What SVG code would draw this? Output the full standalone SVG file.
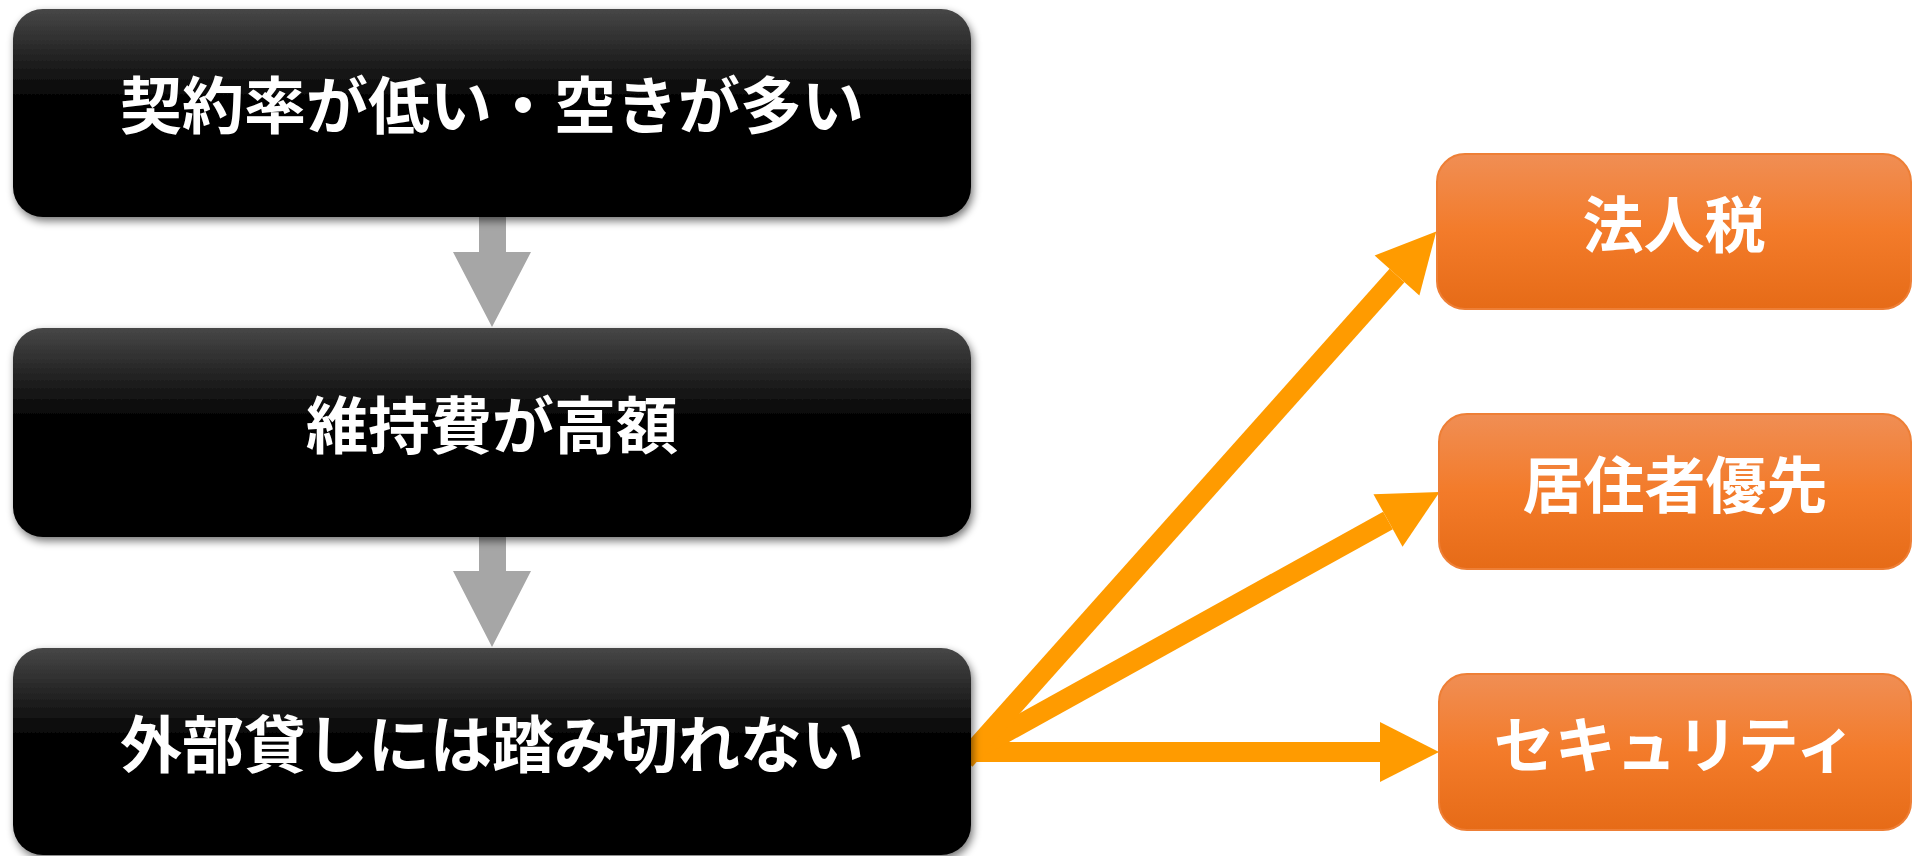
<svg xmlns="http://www.w3.org/2000/svg" width="1914" height="856" viewBox="0 0 1914 856">
<defs>
<linearGradient id="gBlack" x1="0" y1="0" x2="0" y2="1">
<stop offset="0" stop-color="#474747"/>
<stop offset="0.45" stop-color="#000000"/>
<stop offset="1" stop-color="#000000"/>
</linearGradient>
<linearGradient id="gOrange" x1="0" y1="0" x2="0" y2="1">
<stop offset="0" stop-color="#F08E54"/>
<stop offset="0.5" stop-color="#F37B2A"/>
<stop offset="1" stop-color="#E66B17"/>
</linearGradient>
<filter id="shadow" x="-5%" y="-10%" width="110%" height="125%">
<feGaussianBlur in="SourceAlpha" stdDeviation="4"/>
<feOffset dx="2" dy="4" result="b"/>
<feComponentTransfer><feFuncA type="linear" slope="0.55"/></feComponentTransfer>
<feMerge><feMergeNode/><feMergeNode in="SourceGraphic"/></feMerge>
</filter>
<marker id="headO" markerUnits="userSpaceOnUse" markerWidth="60" markerHeight="60" refX="0" refY="30" orient="auto" overflow="visible">
<path d="M0,0 L59,30 L0,60 z" fill="#FF9B00"/>
</marker>
<style>
.bbox{fill:url(#gBlack);filter:url(#shadow);}
.obox{fill:url(#gOrange);stroke:#EE7F36;stroke-width:2;}
.t{font-family:"Noto Sans CJK JP","Noto Sans CJK SC",sans-serif;font-weight:bold;fill:#FFFFFF;text-anchor:middle;}
.tb{font-size:62px;}
.to{font-size:61px;}
.oarrow{stroke:#FF9B00;stroke-width:20;fill:none;marker-end:url(#headO);}
.garrow{fill:#A6A6A6;}
</style>
</defs>
<g id="connectors">
<polygon class="garrow" points="479,216 506,216 506,252 531,252 492,327 453,252 479,252"/>
<polygon class="garrow" points="479,536 506,536 506,571 531,571 492,647 453,571 479,571"/>
<line class="oarrow" x1="965" y1="752" x2="1380" y2="752"/>
<line class="oarrow" x1="965" y1="755" x2="1388" y2="520.5"/>
<line class="oarrow" x1="965" y1="760" x2="1397" y2="275.5"/>
</g>
<g id="node1">
<rect class="bbox" x="13" y="9" width="958" height="208" rx="30" ry="30"/>
<text class="t tb" x="492" y="129">契約率が低い・空きが多い</text>
</g>
<g id="node2">
<rect class="bbox" x="13" y="328" width="958" height="209" rx="30" ry="30"/>
<text class="t tb" x="492" y="449">維持費が高額</text>
</g>
<g id="node3">
<rect class="bbox" x="13" y="648" width="958" height="207" rx="30" ry="30"/>
<text class="t tb" x="492" y="768">外部貸しには踏み切れない</text>
</g>
<g id="node4">
<rect class="obox" x="1437" y="154" width="474" height="155" rx="28" ry="28"/>
<text class="t to" x="1674" y="248">法人税</text>
</g>
<g id="node5">
<rect class="obox" x="1439" y="414" width="472" height="155" rx="28" ry="28"/>
<text class="t to" x="1675" y="508">居住者優先</text>
</g>
<g id="node6">
<rect class="obox" x="1439" y="674" width="472" height="156" rx="28" ry="28"/>
<text class="t to" x="1675" y="768">セキュリティ</text>
</g>
</svg>
